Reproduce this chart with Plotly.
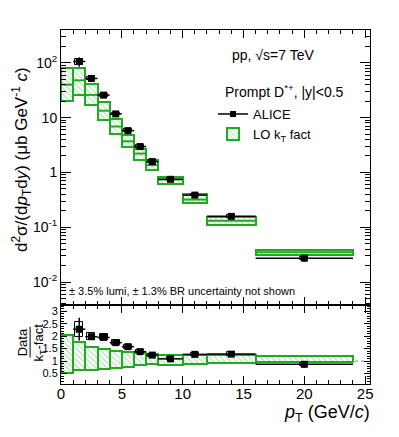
import numpy as np
import plotly.graph_objects as go
from plotly.subplots import make_subplots

# ALICE prompt D*+ cross section, pp 7 TeV
pt_lo = [1, 2, 3, 4, 5, 6, 7, 8, 10, 12, 16]
pt_hi = [2, 3, 4, 5, 6, 7, 8, 10, 12, 16, 24]
sigma = [106, 52, 25.8, 11.7, 5.8, 2.97, 1.58, 0.75, 0.386, 0.158, 0.0273]
stat_rel = [0.20, 0.06, 0.05, 0.05, 0.05, 0.05, 0.05, 0.05, 0.06, 0.07, 0.15]
syst_rel = [0.13, 0.07, 0.06, 0.06, 0.05, 0.05, 0.05, 0.05, 0.05, 0.05, 0.07]

# LO kT-factorisation prediction
th_lo_edge = [0, 1, 2, 3, 4, 5, 6, 7, 8, 10, 12, 16]
th_hi_edge = [1, 2, 3, 4, 5, 6, 7, 8, 10, 12, 16, 24]
th_high = [80, 82, 41, 19.3, 9.5, 4.9, 2.73, 1.67, 0.835, 0.398, 0.156, 0.039]
th_mid = [40, 48, 26, 13.4, 6.9, 3.7, 2.21, 1.36, 0.747, 0.32, 0.132, 0.035]
th_low = [20, 26, 16.7, 9.2, 5.1, 2.9, 1.72, 1.1, 0.62, 0.273, 0.11, 0.0313]

# ratio panel
ratio = [2.28, 1.98, 1.95, 1.74, 1.58, 1.38, 1.24, 1.09, 1.27, 1.28, 0.87]
rat_th_high = [2.06, 1.78, 1.58, 1.47, 1.39, 1.35, 1.31, 1.27, 1.26, 1.26, 1.26, 1.21]
rat_th_low = [0.53, 0.64, 0.64, 0.68, 0.73, 0.77, 0.84, 0.87, 0.86, 0.89, 0.92, 0.95]

GREEN = "#22a822"
HATCH = "#8fd18f"
FONT = "Liberation Sans"

pt_lo, pt_hi = np.array(pt_lo, float), np.array(pt_hi, float)
pt = (pt_lo + pt_hi) / 2
halfw = (pt_hi - pt_lo) / 2
sigma = np.array(sigma)
ratio = np.array(ratio)
stat_rel, syst_rel = np.array(stat_rel), np.array(syst_rel)

th_lo_edge, th_hi_edge = np.array(th_lo_edge, float), np.array(th_hi_edge, float)
th_x = (th_lo_edge + th_hi_edge) / 2
th_w = th_hi_edge - th_lo_edge
th_high, th_mid, th_low = np.array(th_high), np.array(th_mid), np.array(th_low)
rat_th_high, rat_th_low = np.array(rat_th_high), np.array(rat_th_low)

fig = make_subplots(rows=2, cols=1, shared_xaxes=False, vertical_spacing=0,
                    row_heights=[0.777, 0.223])

pattern = dict(shape="\\", fgcolor=HATCH, bgcolor="white", size=4, solidity=0.45)


def seg_xy(lo, hi, y):
    xs, ys = [], []
    for a, b, v in zip(lo, hi, y):
        xs += [a, b, None]
        ys += [v, v, None]
    return xs, ys


# theory bands, top
fig.add_trace(go.Bar(x=th_x, y=th_high - th_low, base=th_low, width=th_w,
                     marker=dict(color="white", pattern=pattern,
                                 line=dict(color=GREEN, width=2)),
                     name="LO k<sub>T</sub> fact", legendrank=2), row=1, col=1)
cx, cy = seg_xy(th_lo_edge, th_hi_edge, th_mid)
fig.add_trace(go.Scatter(x=cx, y=cy, mode="lines", line=dict(color=GREEN, width=2),
                         showlegend=False), row=1, col=1)

# data syst boxes, top
fig.add_trace(go.Bar(x=pt, y=sigma * 2 * syst_rel, base=sigma * (1 - syst_rel), width=0.65,
                     marker=dict(color="rgba(0,0,0,0)", line=dict(color="black", width=1)),
                     showlegend=False), row=1, col=1)
fig.add_trace(go.Scatter(x=pt, y=sigma, mode="markers",
                         marker=dict(symbol="square", size=7, color="black"),
                         error_x=dict(type="data", array=halfw, width=0, thickness=1.5, color="black"),
                         error_y=dict(type="data", array=sigma * stat_rel, width=0, thickness=1.5,
                                      color="black"),
                         showlegend=False), row=1, col=1)
# legend-only entry for data
fig.add_trace(go.Scatter(x=[None], y=[None], mode="lines+markers", name="ALICE",
                         line=dict(color="black", width=1.5),
                         marker=dict(symbol="square", size=6, color="black"),
                         legendrank=1), row=1, col=1)

# ratio panel
fig.add_trace(go.Bar(x=th_x, y=rat_th_high - rat_th_low, base=rat_th_low, width=th_w,
                     marker=dict(color="white", pattern=pattern,
                                 line=dict(color=GREEN, width=2)),
                     showlegend=False), row=2, col=1)
fig.add_trace(go.Bar(x=pt, y=ratio * 2 * syst_rel, base=ratio * (1 - syst_rel), width=0.65,
                     marker=dict(color="rgba(0,0,0,0)", line=dict(color="black", width=1)),
                     showlegend=False), row=2, col=1)
fig.add_trace(go.Scatter(x=pt, y=ratio, mode="markers",
                         marker=dict(symbol="square", size=7, color="black"),
                         error_x=dict(type="data", array=halfw, width=0, thickness=1.5, color="black"),
                         error_y=dict(type="data", array=ratio * stat_rel, width=0, thickness=1.5,
                                      color="black"),
                         showlegend=False), row=2, col=1)

fig.add_shape(type="line", x0=0, x1=25, y0=1, y1=1, xref="x2", yref="y2",
              line=dict(color="#888888", width=1, dash="dot"), layer="below")

axis_common = dict(showline=True, linecolor="black", linewidth=1, mirror="allticks",
                   ticks="inside", tickcolor="black", showgrid=False, zeroline=False,
                   automargin=False)

fig.update_xaxes(range=[0, 25.4], dtick=5, ticklen=8,
                 minor=dict(ticks="inside", dtick=1, ticklen=4, tickcolor="black"),
                 **axis_common)
fig.update_xaxes(showticklabels=False, row=1, col=1)
fig.update_xaxes(tickfont=dict(size=15, color="black", family=FONT), ticklabelstandoff=-4,
                 row=2, col=1)

minor_log = [k * 10.0 ** e for e in range(-3, 3) for k in range(2, 10)]
fig.update_yaxes(type="log", range=[-2.42, 2.6],
                 tickvals=[0.01, 0.1, 1, 10, 100],
                 ticktext=["10<sup>-2</sup>", "10<sup>-1</sup>", "1", "10", "10<sup>2</sup>"],
                 ticklen=10, tickfont=dict(size=14, color="black", family=FONT),
                 minor=dict(ticks="inside", tickvals=minor_log, ticklen=5, tickcolor="black"),
                 row=1, col=1, **axis_common)
fig.update_yaxes(range=[0.08, 3.25], tickvals=[0.5, 1, 1.5, 2, 2.5, 3],
                 ticktext=["0.5", "1", "1.5", "2", "2.5", "3"],
                 ticklen=6, tickfont=dict(size=11, color="black", family=FONT),
                 minor=dict(ticks="inside", dtick=0.1, ticklen=3, tickcolor="black"),
                 row=2, col=1, **axis_common)

annots = [
    dict(text="d<sup>2</sup>σ/(d<i>p</i><sub>T</sub>d<i>y</i>) (μb GeV<sup>-1</sup> <i>c</i>)",
         x=-0.126, y=0.633, textangle=-90, font=dict(size=17)),
    dict(text="Data", x=-0.126, y=0.118, textangle=-90, font=dict(size=13)),
    dict(text="k<sub>T</sub>-fact", x=-0.07, y=0.118, textangle=-90, font=dict(size=13)),
    dict(text="pp, √s=7 TeV", x=0.686, y=0.929, font=dict(size=14)),
    dict(text="Prompt D<sup>*+</sup>, |y|<0.5", x=0.524, y=0.828, xanchor="left", font=dict(size=14)),
    dict(text="± 3.5% lumi, ± 1.3% BR uncertainty not shown", x=0.019, y=0.263,
         xanchor="left", font=dict(size=11)),
    dict(text="<i>p</i><sub>T</sub> (GeV/<i>c</i>)", x=1.006, y=-0.082, xanchor="right",
         font=dict(size=18)),
]
for a in annots:
    a.setdefault("xanchor", "center")
    a["font"].update(color="black", family=FONT)
    fig.add_annotation(xref="paper", yref="paper", showarrow=False, yanchor="middle", **a)

fig.add_shape(type="line", xref="paper", yref="paper", x0=-0.1, x1=-0.1, y0=0.075, y1=0.162,
              line=dict(color="black", width=1))

fig.update_layout(
    width=399, height=437,
    margin=dict(l=61, r=29, t=30, b=53),
    paper_bgcolor="white", plot_bgcolor="white",
    barmode="overlay", bargap=0,
    font=dict(family=FONT, color="black"),
    legend=dict(x=0.492, y=0.805, xanchor="left", yanchor="top",
                bgcolor="rgba(0,0,0,0)", font=dict(size=13, family=FONT, color="black"),
                tracegroupgap=4, itemwidth=30),
)

fig.write_html("out.html", config={"displayModeBar": False},
               post_script="document.body.style.margin='0';")
